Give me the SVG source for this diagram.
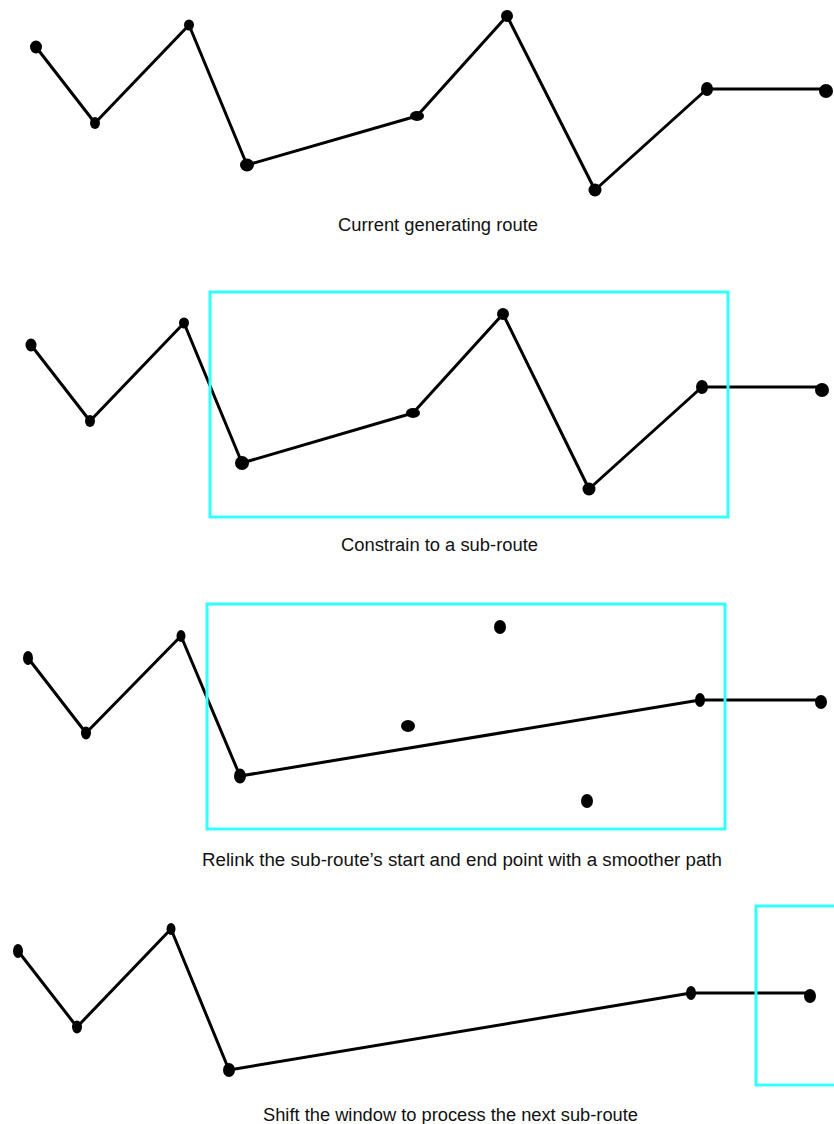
<svg xmlns="http://www.w3.org/2000/svg" width="834" height="1124" viewBox="0 0 834 1124">
<style>
.route{fill:none;stroke:#000;stroke-width:3;stroke-linejoin:round;stroke-linecap:round}
.pt{fill:#000}
.win{fill:none;stroke:#33FFFF;stroke-width:3}
.cap{font-family:"Liberation Sans",Arial,Helvetica,sans-serif;font-size:18px;fill:#111}
</style>
<rect width="834" height="1124" fill="#fff"/>

<g id="connectors">
<polyline class="route" points="36,47 95,123 189,25 247,165 417,116 507,16 595,190 707,89 826,89"/>
<polyline class="route" points="31,345 90,421 184,323 242,463 413,413 503,314 589,489 702,387 822,387"/>
<polyline class="route" points="28,658 86,733 181,636 240,776 700,700 821,700"/>
<polyline class="route" points="18,951 77,1027 171,929 229,1070 691,993 809,993"/>
</g>

<g id="panel1">
<ellipse class="pt" cx="36" cy="47" rx="6" ry="6.5"/>
<ellipse class="pt" cx="95" cy="123" rx="5" ry="6"/>
<ellipse class="pt" cx="189" cy="25" rx="5" ry="5.5"/>
<ellipse class="pt" cx="247" cy="165" rx="7" ry="6.5"/>
<ellipse class="pt" cx="417" cy="116" rx="7" ry="5"/>
<ellipse class="pt" cx="507" cy="16" rx="6" ry="6"/>
<ellipse class="pt" cx="595" cy="190" rx="6.5" ry="6.5"/>
<ellipse class="pt" cx="707" cy="89" rx="6" ry="7"/>
<ellipse class="pt" cx="826" cy="91" rx="7" ry="7"/>
<text id="cap1" class="cap" x="338" y="231" textLength="200" lengthAdjust="spacingAndGlyphs">Current generating route</text>
</g>

<g id="panel2">
<rect id="window2" class="win" x="210" y="292" width="518" height="225"/>
<ellipse class="pt" cx="31" cy="345" rx="5.5" ry="6.5"/>
<ellipse class="pt" cx="90" cy="421" rx="5" ry="6"/>
<ellipse class="pt" cx="184" cy="323" rx="5" ry="5.5"/>
<ellipse class="pt" cx="242" cy="463" rx="7" ry="7"/>
<ellipse class="pt" cx="413" cy="413" rx="7" ry="5"/>
<ellipse class="pt" cx="503" cy="314" rx="6" ry="6"/>
<ellipse class="pt" cx="589" cy="489" rx="6.5" ry="6.5"/>
<ellipse class="pt" cx="702" cy="387" rx="6" ry="7"/>
<ellipse class="pt" cx="822" cy="390" rx="7" ry="7"/>
<text id="cap2" class="cap" x="341" y="551" textLength="197" lengthAdjust="spacingAndGlyphs">Constrain to a sub-route</text>
</g>

<g id="panel3">
<rect id="window3" class="win" x="207" y="604" width="518" height="225"/>
<ellipse class="pt" cx="28" cy="658" rx="5" ry="7"/>
<ellipse class="pt" cx="86" cy="733" rx="5" ry="6.5"/>
<ellipse class="pt" cx="181" cy="636" rx="4.5" ry="6"/>
<ellipse class="pt" cx="240" cy="776" rx="6" ry="7.5"/>
<ellipse class="pt" cx="500" cy="627" rx="6" ry="7"/>
<ellipse class="pt" cx="408" cy="726" rx="7" ry="6"/>
<ellipse class="pt" cx="587" cy="801" rx="6" ry="7"/>
<ellipse class="pt" cx="700" cy="700" rx="5" ry="7"/>
<ellipse class="pt" cx="821" cy="702" rx="6" ry="7"/>
<text id="cap3" class="cap" x="202" y="866" textLength="520" lengthAdjust="spacingAndGlyphs">Relink the sub-route’s start and end point with a smoother path</text>
</g>

<g id="panel4">
<rect id="window4" class="win" x="756" y="906" width="518" height="179"/>
<ellipse class="pt" cx="18" cy="951" rx="5" ry="7"/>
<ellipse class="pt" cx="77" cy="1027" rx="5" ry="6.5"/>
<ellipse class="pt" cx="171" cy="929" rx="4.5" ry="6"/>
<ellipse class="pt" cx="229" cy="1070" rx="6" ry="7"/>
<ellipse class="pt" cx="691" cy="993" rx="5" ry="7"/>
<ellipse class="pt" cx="810" cy="996" rx="6" ry="7"/>
<text id="cap4" class="cap" x="263" y="1121" textLength="375" lengthAdjust="spacingAndGlyphs">Shift the window to process the next sub-route</text>
</g>
</svg>
